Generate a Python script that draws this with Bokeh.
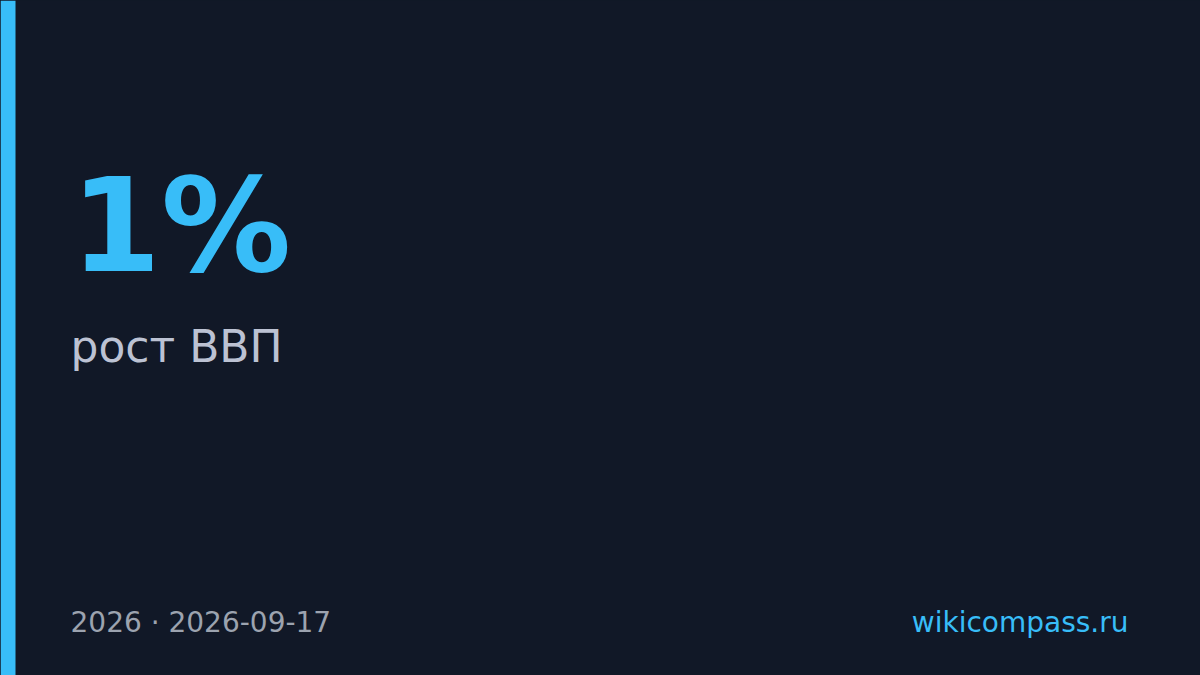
from bokeh.plotting import figure
from bokeh.models import Range1d
from bokeh.core.properties import value
from bokeh.embed import file_html
from bokeh.resources import INLINE

# Data
headline = ["1%"]
caption = ["рост ВВП"]
footer_left = ["2026 · 2026-09-17"]
footer_right = ["wikicompass.ru"]

W, H = 1200, 675
BG = "#111827"
ACCENT = "#38bdf8"
FONT = "DejaVu Sans"

p = figure(width=W, height=H, output_backend="svg", toolbar_location=None,
           x_range=Range1d(0, W), y_range=Range1d(H, 0),
           min_border=0, outline_line_color=None,
           background_fill_color=BG, border_fill_color=BG)
p.axis.visible = False
p.grid.visible = False

# accent bar
p.quad(left=[0], right=[15], top=[0], bottom=[H], fill_color=ACCENT, line_color=None)

p.text(x=[70], y=[225], text=headline, text_font=value(FONT), text_font_style="bold",
       text_font_size="130px", text_color=ACCENT, text_baseline="alphabetic", text_align="left")
p.text(x=[70], y=[346], text=caption, text_font=value(FONT),
       text_font_size="44px", text_color="#bcc2d3", text_baseline="alphabetic", text_align="left")
p.text(x=[70], y=[622], text=footer_left, text_font=value(FONT),
       text_font_size="28px", text_color="#9ca3af", text_baseline="alphabetic", text_align="left")
p.text(x=[1128], y=[622], text=footer_right, text_font=value(FONT),
       text_font_size="28px", text_color=ACCENT, text_baseline="alphabetic", text_align="right")

html = file_html(p, INLINE)
html = html.replace("<head>", "<head><style>html,body{margin:0;padding:0;background:%s;overflow:hidden}</style>" % BG, 1)
open("out.html", "w").write(html)
